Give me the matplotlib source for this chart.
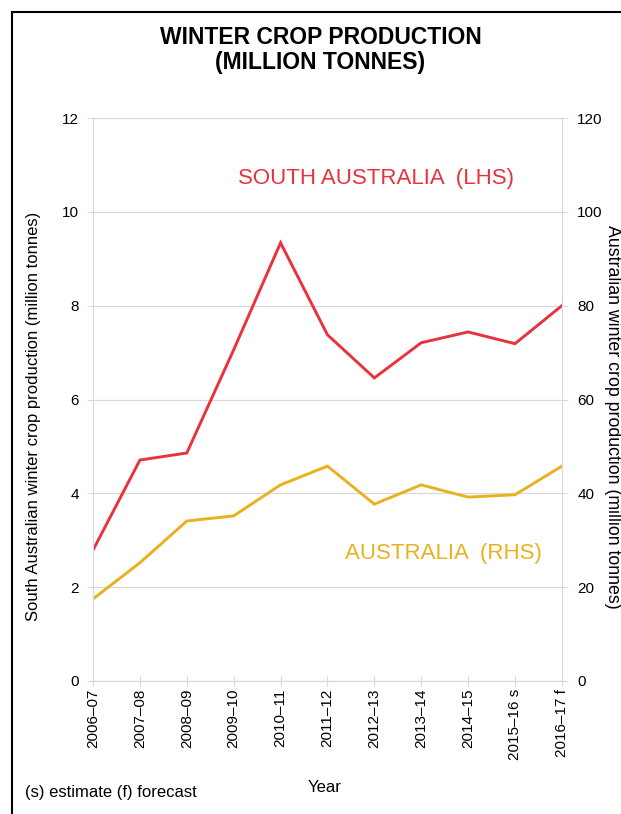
import matplotlib
matplotlib.use("Agg")
import matplotlib.pyplot as plt
from matplotlib.lines import Line2D

plt.rcParams['font.family'] = ['Liberation Sans', 'DejaVu Sans']

years = ['2006–07', '2007–08', '2008–09', '2009–10', '2010–11', '2011–12',
         '2012–13', '2013–14', '2014–15', '2015–16 s', '2016–17 f']
sa_prod = [2.79, 4.71, 4.86, 7.06, 9.34, 7.38, 6.46, 7.21, 7.44, 7.19, 8.0]
aus_prod = [17.5, 25.2, 34.1, 35.2, 41.8, 45.8, 37.7, 41.8, 39.2, 39.7, 45.8]

red = '#e8323c'
gold = '#e8b11e'
grid_c = '#d9d9d9'

fig = plt.figure(figsize=(6.21, 8.14), dpi=100)
ax = fig.add_axes([0.1498, 0.1634, 0.755, 0.6916])
ax2 = ax.twinx()

x = list(range(len(years)))
ax.plot(x, sa_prod, color=red, lw=2.1, solid_joinstyle='miter')
ax2.plot(x, aus_prod, color=gold, lw=2.1, solid_joinstyle='miter')

ax.set_xlim(0, len(years) - 1)
ax.set_ylim(0, 12)
ax2.set_ylim(0, 120)
ax.set_yticks(range(0, 13, 2))
ax2.set_yticks(range(0, 121, 20))
ax.set_xticks(x)
ax.set_xticklabels(years, rotation=90, fontsize=11)
ax.grid(axis='y', color=grid_c, lw=0.9)
ax.set_axisbelow(True)

for a in (ax, ax2):
    for s in a.spines.values():
        s.set_color(grid_c)
    a.spines['top'].set_visible(False)
    a.tick_params(colors=grid_c, labelcolor='black', labelsize=11, length=4)
ax.tick_params(axis='x', direction='inout', length=7, pad=2)
ax.tick_params(axis='y', pad=6)
ax2.tick_params(axis='y', pad=7)

ax.set_ylabel('South Australian winter crop production (million tonnes)', fontsize=12,
              va='center')
ax2.set_ylabel('Australian winter crop production (million tonnes)', fontsize=12.8,
               rotation=-90, va='center')
ax.yaxis.set_label_coords(-0.128, 0.47)
ax2.yaxis.set_label_coords(1.107, 0.47)

ax.text(0.603, 0.892, 'SOUTH AUSTRALIA  (LHS)', transform=ax.transAxes, color=red,
        fontsize=16, ha='center', va='center')
ax.text(0.747, 0.227, 'AUSTRALIA  (RHS)', transform=ax.transAxes, color=gold,
        fontsize=16, ha='center', va='center')

fig.text(0.516, 0.9386, 'WINTER CROP PRODUCTION\n(MILLION TONNES)', ha='center', va='center',
         fontsize=16.5, fontweight='bold', linespacing=1.15)
fig.text(0.523, 0.032, 'Year', ha='center', va='center', fontsize=12)
fig.text(0.04, 0.026, '(s) estimate (f) forecast', ha='left', va='center', fontsize=12)

# frame on top and left
fig.add_artist(Line2D([0.0193, 0.0193], [0.0, 0.985], color='black', lw=1.5, transform=fig.transFigure))
fig.add_artist(Line2D([0.0193, 1.0], [0.985, 0.985], color='black', lw=1.5, transform=fig.transFigure))

fig.savefig('out.png', dpi=100)
